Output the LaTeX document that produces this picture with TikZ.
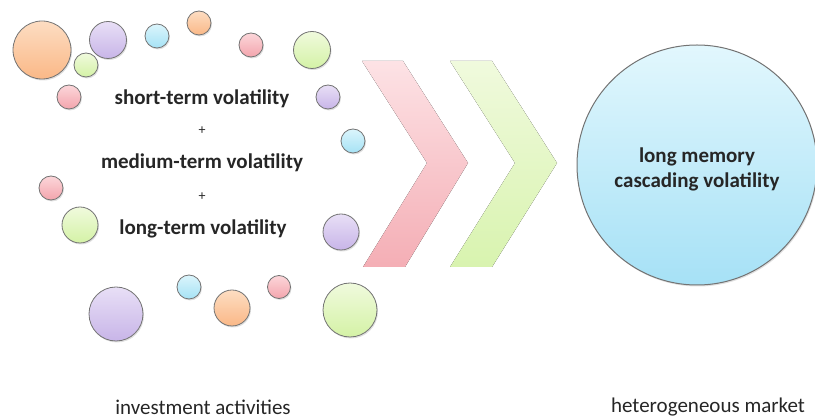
\documentclass[tikz,border=0pt]{standalone}
\usepackage{fontspec}
\setmainfont{Carlito}
\usetikzlibrary{shadows}
\definecolor{orgtop}{HTML}{FDDDC2}
\definecolor{orgbot}{HTML}{FAB887}
\definecolor{pptop}{HTML}{E8DFF6}
\definecolor{ppbot}{HTML}{C8B5E8}
\definecolor{cytop}{HTML}{DBF5FC}
\definecolor{cybot}{HTML}{A6E2F5}
\definecolor{pktop}{HTML}{FCD6DA}
\definecolor{pkbot}{HTML}{F3A5AD}
\definecolor{grtop}{HTML}{F0FADD}
\definecolor{grbot}{HTML}{D4F2A6}
\definecolor{bigtop}{HTML}{E2F7FD}
\definecolor{bigbot}{HTML}{A6E1F6}
\tikzset{
  bubble/.style={circle, draw=black!55, line width=0.8pt, inner sep=0pt, minimum size=#1,
    drop shadow={shadow xshift=1pt, shadow yshift=-1.5pt, opacity=0.25}},
  orangeb/.style={top color=orgtop, bottom color=orgbot},
  purpleb/.style={top color=pptop, bottom color=ppbot},
  cyanb/.style={top color=cytop, bottom color=cybot},
  pinkb/.style={top color=pktop, bottom color=pkbot},
  greenb/.style={top color=grtop, bottom color=grbot},
  vol/.style={font=\bfseries\fontsize{21}{25}\selectfont, text=black!85},
  plus/.style={font=\fontsize{14}{16}\selectfont, text=black!85},
  caption/.style={font=\fontsize{21}{25}\selectfont, text=black!85}
}
\begin{document}
\begin{tikzpicture}[x=1pt,y=-1pt]
\useasboundingbox (0,0) rectangle (815,419);

\node[bubble=58, orangeb] (b1) at (42,50) {};
\node[bubble=37, purpleb] (b2) at (108,40) {};
\node[bubble=24, greenb] (b3) at (86,65) {};
\node[bubble=24, cyanb] (b4) at (157,36) {};
\node[bubble=24, orangeb] (b5) at (199,23) {};
\node[bubble=24, pinkb] (b6) at (251,45) {};
\node[bubble=37, greenb] (b7) at (312,50) {};
\node[bubble=24, pinkb] (b8) at (69,97) {};
\node[bubble=24, purpleb] (b9) at (328,97) {};
\node[bubble=24, cyanb] (b10) at (353,141) {};
\node[bubble=24, pinkb] (b11) at (51,188) {};
\node[bubble=36, greenb] (b12) at (80,225) {};
\node[bubble=36, purpleb] (b13) at (341,232) {};
\node[bubble=24, cyanb] (b14) at (189,287) {};
\node[bubble=36, orangeb] (b15) at (232,308) {};
\node[bubble=23, pinkb] (b16) at (279,287) {};
\node[bubble=54, purpleb] (b17) at (116,314) {};
\node[bubble=54, greenb] (b18) at (350,310) {};

\node[vol] (short) at (202,99) {short-term volatility};
\node[plus] (plusa) at (202,131) {+};
\node[vol] (medium) at (202,163) {medium-term volatility};
\node[plus] (plusb) at (202,197) {+};
\node[vol] (long) at (203,229) {long-term volatility};

\fill[top color=pktop!70!white, bottom color=pkbot!90!white]
  (362,61) -- (403,61) -- (468,163) -- (405,267) -- (363,267) -- (427,163) -- cycle;
\fill[top color=grtop, bottom color=grbot!90!white]
  (450,61) -- (492,61) -- (557,163) -- (492,267) -- (450,267) -- (515,163) -- cycle;

\node[bubble=240, top color=bigtop, bottom color=bigbot, line width=1pt] (market) at (697,165) {};
\node[vol, align=center] (lmcv) at (697,169) {long memory\\cascading volatility};

\node[caption] (invest) at (203,407) {investment activities};
\node[caption] (hetero) at (708,407) {heterogeneous market};
\end{tikzpicture}
\end{document}
